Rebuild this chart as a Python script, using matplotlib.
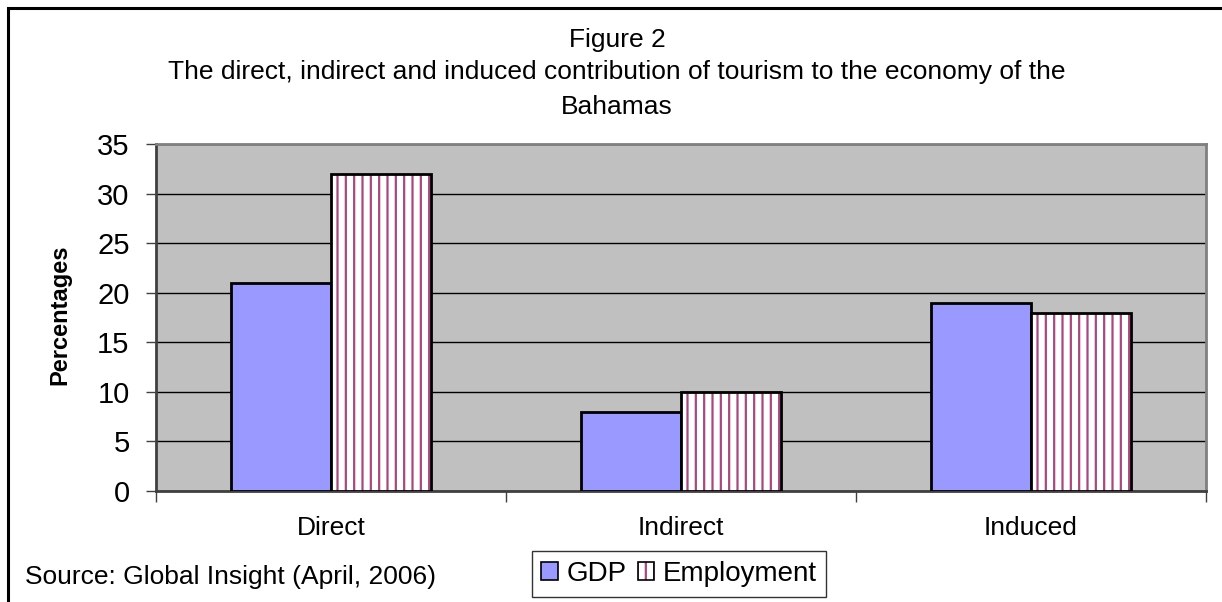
import matplotlib
matplotlib.use("Agg")
import matplotlib.pyplot as plt
from matplotlib.patches import Patch, Rectangle
from matplotlib.legend_handler import HandlerTuple
import numpy as np

categories = ["Direct", "Indirect", "Induced"]
gdp = [21, 8, 19]
employment = [32, 10, 18]
yticks = [0, 5, 10, 15, 20, 25, 30, 35]

gdp_color = "#9999ff"
hatch_color = "#a8487e"

plt.rcParams["font.family"] = ["Liberation Sans", "DejaVu Sans"]
plt.rcParams["hatch.linewidth"] = 1.6

W, H = 1222, 602
fig = plt.figure(figsize=(W / 100, H / 100), dpi=100)
fig.patch.set_facecolor("white")

# outer chart frame (runs off right/bottom edge)
fig.add_artist(Rectangle((8 / W, -0.1), 1.2, (H - 8) / H + 0.1, transform=fig.transFigure,
                         fill=False, edgecolor="black", linewidth=2.2))

ax = fig.add_axes([156 / W, (H - 491) / H, 1050 / W, (491 - 144) / H])
ax.set_facecolor("#c0c0c0")

x = np.arange(len(categories))
bw = 100 / 350

ax.bar(x - bw / 2, gdp, bw, color=gdp_color, edgecolor="black", linewidth=2, zorder=3)
ax.bar(x + bw / 2, employment, bw, color="white", edgecolor=hatch_color, hatch="||",
       linewidth=0, zorder=3)
ax.bar(x + bw / 2, employment, bw, fill=False, edgecolor="black", linewidth=2, zorder=4)

ax.set_xlim(-0.5, 2.5)
ax.set_ylim(0, 35)
ax.set_yticks(yticks)
ax.tick_params(axis="y", labelsize=21, length=7, width=1, color="#404040", pad=12)
ax.yaxis.grid(True, color="black", linewidth=1)
ax.set_axisbelow(True)

ax.set_xticks([-0.5, 0.5, 1.5, 2.5])
ax.set_xticklabels([])
ax.set_xticks(x, minor=True)
ax.set_xticklabels(categories, minor=True, fontsize=19)
ax.tick_params(axis="x", which="major", length=8, width=1, color="#404040")
ax.tick_params(axis="x", which="minor", length=0, pad=18)

for side in ["top", "right"]:
    ax.spines[side].set_color("#808080")
    ax.spines[side].set_linewidth(2)
for side in ["left", "bottom"]:
    ax.spines[side].set_color("#404040")
    ax.spines[side].set_linewidth(2)

fig.text(60 / W, 1 - 315 / H, "Percentages", rotation=90, ha="center", va="center",
         fontsize=17, fontweight="bold")

fig.text(617 / W, 1 - 40 / H, "Figure 2", ha="center", va="center", fontsize=19)
fig.text(617 / W, 1 - 72 / H,
         "The direct, indirect and induced contribution of tourism to the economy of the",
         ha="center", va="center", fontsize=19)
fig.text(617 / W, 1 - 107 / H, "Bahamas", ha="center", va="center", fontsize=19)

fig.text(25 / W, 1 - 577 / H, "Source: Global Insight (April, 2006)", ha="left",
         va="center", fontsize=19)

h_gdp = Patch(facecolor=gdp_color, edgecolor="black", linewidth=1.2)
h_emp = (Patch(facecolor="white", edgecolor=hatch_color, hatch="||", linewidth=0),
         Patch(fill=False, edgecolor="black", linewidth=1.2))
leg = fig.legend([h_gdp, h_emp], ["GDP", "Employment"], loc="center",
                 bbox_to_anchor=(679 / W, 1 - 574 / H), ncol=2, fontsize=20,
                 frameon=True, fancybox=False, handlelength=0.6, handleheight=0.6,
                 handletextpad=0.3, columnspacing=0.4, borderpad=0.35,
                 handler_map={tuple: HandlerTuple(ndivide=1)})
leg.get_frame().set_edgecolor("black")
leg.get_frame().set_linewidth(1)

fig.savefig("out.png", dpi=100)
